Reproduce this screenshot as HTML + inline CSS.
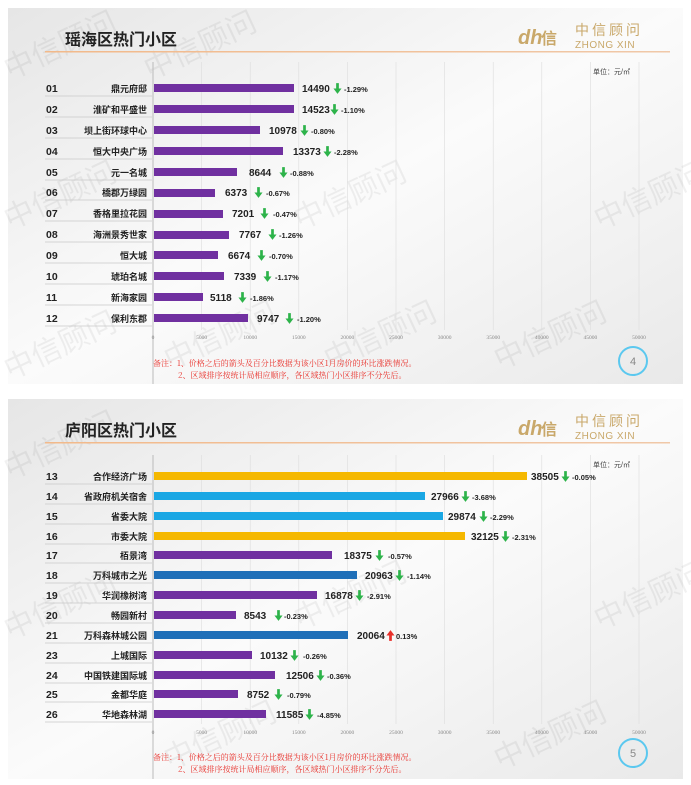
<!DOCTYPE html>
<html><head><meta charset="utf-8"><style>
body{margin:0;background:#fff;width:691px;height:785px;overflow:hidden}
svg{display:block}
text{font-family:"Liberation Sans","Noto Sans CJK SC",sans-serif}
.n{font-size:10.5px;font-weight:bold;fill:#222}
.nm{font-size:9px;font-weight:bold;fill:#222;text-anchor:end}
.v{font-size:10px;font-weight:bold;fill:#222}
.p{font-size:7.5px;font-weight:bold;fill:#222}
.t{font-size:5.5px;fill:#888;text-anchor:middle;font-family:"Liberation Serif",serif}
.w{font-size:30px;fill:#000;opacity:0.05;font-family:"Noto Sans CJK SC",sans-serif}
.r{font-size:8px;fill:#e8302a;font-family:"Noto Serif CJK SC",serif}
.ar{fill:#2db34a}
</style></head><body>
<svg width="691" height="785" viewBox="0 0 691 785">
<defs>
<linearGradient id="bg" x1="0" y1="0" x2="1" y2="1"><stop offset="0" stop-color="#e6e6e6"/><stop offset="0.5" stop-color="#fbfbfb"/><stop offset="1" stop-color="#e9e9e9"/></linearGradient>
<linearGradient id="ol" x1="0" x2="1"><stop offset="0" stop-color="#f2b98a"/><stop offset="1" stop-color="#f0c8a8"/></linearGradient>
<symbol id="dn" viewBox="0 0 10 12"><path class="ar" d="M3.5 0h3v6h3L5 12 0.5 6h3z"/></symbol>
<symbol id="up" viewBox="0 0 10 12"><path fill="#e8302a" d="M3.5 12h3V6h3L5 0 0.5 6h3z"/></symbol>
</defs>
<rect width="691" height="785" fill="#fff"/>
<rect x="8" y="8" width="675" height="376" fill="url(#bg)"/>
<rect x="8" y="399" width="675" height="380" fill="url(#bg)"/>
<g>
<text class="w" x="10" y="80" transform="rotate(-25 10 80)">中信顾问</text>
<text class="w" x="150" y="80" transform="rotate(-25 150 80)">中信顾问</text>
<text class="w" x="300" y="230" transform="rotate(-25 300 230)">中信顾问</text>
<text class="w" x="10" y="230" transform="rotate(-25 10 230)">中信顾问</text>
<text class="w" x="600" y="230" transform="rotate(-25 600 230)">中信顾问</text>
<text class="w" x="10" y="380" transform="rotate(-25 10 380)">中信顾问</text>
<text class="w" x="170" y="370" transform="rotate(-25 170 370)">中信顾问</text>
<text class="w" x="330" y="370" transform="rotate(-25 330 370)">中信顾问</text>
<text class="w" x="500" y="370" transform="rotate(-25 500 370)">中信顾问</text>
<text class="w" x="10" y="480" transform="rotate(-25 10 480)">中信顾问</text>
<text class="w" x="300" y="630" transform="rotate(-25 300 630)">中信顾问</text>
<text class="w" x="600" y="630" transform="rotate(-25 600 630)">中信顾问</text>
<text class="w" x="10" y="640" transform="rotate(-25 10 640)">中信顾问</text>
<text class="w" x="170" y="770" transform="rotate(-25 170 770)">中信顾问</text>
<text class="w" x="500" y="770" transform="rotate(-25 500 770)">中信顾问</text>
</g>

<text x="65" y="45" font-size="16" font-weight="bold" fill="#222">瑶海区热门小区</text>
<rect x="45" y="51" width="625" height="1.5" fill="url(#ol)"/>
<text x="518" y="44" font-size="20" font-style="italic" font-weight="bold" fill="#c9a86a" font-family="Liberation Serif,serif">dh</text>
<text x="541" y="44" font-size="16" font-weight="bold" fill="#c9a86a" font-family="Noto Sans CJK SC,sans-serif">信</text>
<text x="575" y="35" font-size="14" fill="#c9a86a" letter-spacing="3" font-family="Noto Sans CJK SC,sans-serif">中信顾问</text>
<text x="575" y="48" font-size="10" fill="#c9a86a" letter-spacing="0.5">ZHONG XIN</text>
<text x="593" y="74" font-size="7" fill="#444" font-family="Noto Serif CJK SC,serif">单位：元/㎡</text>

<g stroke="#dcdcdc" stroke-width="0.6">
<line x1="153" y1="62" x2="153" y2="384" stroke="#bbb" stroke-width="1"/>
<line x1="201.6" y1="62" x2="201.6" y2="330"/><line x1="250.2" y1="62" x2="250.2" y2="330"/><line x1="298.8" y1="62" x2="298.8" y2="330"/><line x1="347.4" y1="62" x2="347.4" y2="330"/><line x1="396" y1="62" x2="396" y2="330"/><line x1="444.6" y1="62" x2="444.6" y2="330"/><line x1="493.2" y1="62" x2="493.2" y2="330"/><line x1="541.8" y1="62" x2="541.8" y2="330"/><line x1="590.4" y1="62" x2="590.4" y2="330"/><line x1="639" y1="62" x2="639" y2="330"/>
</g>
<g>
<text class="t" x="153" y="339">0</text><text class="t" x="201.6" y="339">5000</text><text class="t" x="250.2" y="339">10000</text><text class="t" x="298.8" y="339">15000</text><text class="t" x="347.4" y="339">20000</text><text class="t" x="396" y="339">25000</text><text class="t" x="444.6" y="339">30000</text><text class="t" x="493.2" y="339">35000</text><text class="t" x="541.8" y="339">40000</text><text class="t" x="590.4" y="339">45000</text><text class="t" x="639" y="339">50000</text>
</g>

<g fill="#7030a0">
<rect x="154" y="84" width="140" height="8"/><rect x="154" y="105" width="140" height="8"/><rect x="154" y="126" width="106" height="8"/><rect x="154" y="147" width="129" height="8"/><rect x="154" y="168" width="83" height="8"/><rect x="154" y="189" width="61" height="8"/><rect x="154" y="210" width="69" height="8"/><rect x="154" y="231" width="75" height="8"/><rect x="154" y="251" width="64" height="8"/><rect x="154" y="272" width="70" height="8"/><rect x="154" y="293" width="49" height="8"/><rect x="154" y="314" width="94" height="8"/>
</g>
<g stroke="#c8c8c8" stroke-width="0.8">
<line x1="45" y1="96" x2="152" y2="96"/><line x1="45" y1="117" x2="152" y2="117"/><line x1="45" y1="138" x2="152" y2="138"/><line x1="45" y1="159" x2="152" y2="159"/><line x1="45" y1="180" x2="152" y2="180"/><line x1="45" y1="200" x2="152" y2="200"/><line x1="45" y1="221" x2="152" y2="221"/><line x1="45" y1="242" x2="152" y2="242"/><line x1="45" y1="263" x2="152" y2="263"/><line x1="45" y1="284" x2="152" y2="284"/><line x1="45" y1="305" x2="152" y2="305"/><line x1="45" y1="326" x2="152" y2="326"/>
</g>
<g>
<text class="n" x="46" y="92">01</text><text class="nm" x="147" y="92">鼎元府邸</text>
<text class="n" x="46" y="113">02</text><text class="nm" x="147" y="113">淮矿和平盛世</text>
<text class="n" x="46" y="134">03</text><text class="nm" x="147" y="134">坝上街环球中心</text>
<text class="n" x="46" y="155">04</text><text class="nm" x="147" y="155">恒大中央广场</text>
<text class="n" x="46" y="176">05</text><text class="nm" x="147" y="176">元一名城</text>
<text class="n" x="46" y="196">06</text><text class="nm" x="147" y="196">橋郡万绿园</text>
<text class="n" x="46" y="217">07</text><text class="nm" x="147" y="217">香格里拉花园</text>
<text class="n" x="46" y="238">08</text><text class="nm" x="147" y="238">海洲景秀世家</text>
<text class="n" x="46" y="259">09</text><text class="nm" x="147" y="259">恒大城</text>
<text class="n" x="46" y="280">10</text><text class="nm" x="147" y="280">琥珀名城</text>
<text class="n" x="46" y="301">11</text><text class="nm" x="147" y="301">新海家园</text>
<text class="n" x="46" y="322">12</text><text class="nm" x="147" y="322">保利东郡</text>
</g>
<g>
<text class="v" x="302" y="92">14490</text><use href="#dn" x="333" y="83" width="9" height="11"/><text class="p" x="344" y="92">-1.29%</text>
<text class="v" x="302" y="113">14523</text><use href="#dn" x="330" y="104" width="9" height="11"/><text class="p" x="341" y="113">-1.10%</text>
<text class="v" x="269" y="134">10978</text><use href="#dn" x="300" y="125" width="9" height="11"/><text class="p" x="311" y="134">-0.80%</text>
<text class="v" x="293" y="155">13373</text><use href="#dn" x="323" y="146" width="9" height="11"/><text class="p" x="334" y="155">-2.28%</text>
<text class="v" x="249" y="176">8644</text><use href="#dn" x="279" y="167" width="9" height="11"/><text class="p" x="290" y="176">-0.88%</text>
<text class="v" x="225" y="196">6373</text><use href="#dn" x="254" y="187" width="9" height="11"/><text class="p" x="266" y="196">-0.67%</text>
<text class="v" x="232" y="217">7201</text><use href="#dn" x="260" y="208" width="9" height="11"/><text class="p" x="273" y="217">-0.47%</text>
<text class="v" x="239" y="238">7767</text><use href="#dn" x="268" y="229" width="9" height="11"/><text class="p" x="279" y="238">-1.26%</text>
<text class="v" x="228" y="259">6674</text><use href="#dn" x="257" y="250" width="9" height="11"/><text class="p" x="269" y="259">-0.70%</text>
<text class="v" x="234" y="280">7339</text><use href="#dn" x="263" y="271" width="9" height="11"/><text class="p" x="275" y="280">-1.17%</text>
<text class="v" x="210" y="301">5118</text><use href="#dn" x="238" y="292" width="9" height="11"/><text class="p" x="250" y="301">-1.86%</text>
<text class="v" x="257" y="322">9747</text><use href="#dn" x="285" y="313" width="9" height="11"/><text class="p" x="297" y="322">-1.20%</text>
</g>
<text class="r" x="153" y="366">备注：1、价格之后的箭头及百分比数据为该小区1月房价的环比涨跌情况。</text>
<text class="r" x="178" y="378">2、区域排序按统计局相应顺序，各区域热门小区排序不分先后。</text>
<circle cx="633" cy="361" r="14" fill="none" stroke="#5bc8ef" stroke-width="2"/>
<text x="633" y="365" font-size="11" fill="#888" text-anchor="middle">4</text>

<text x="65" y="436" font-size="16" font-weight="bold" fill="#222">庐阳区热门小区</text>
<rect x="45" y="442" width="625" height="1.5" fill="url(#ol)"/>
<text x="518" y="435" font-size="20" font-style="italic" font-weight="bold" fill="#c9a86a" font-family="Liberation Serif,serif">dh</text>
<text x="541" y="435" font-size="16" font-weight="bold" fill="#c9a86a" font-family="Noto Sans CJK SC,sans-serif">信</text>
<text x="575" y="426" font-size="14" fill="#c9a86a" letter-spacing="3" font-family="Noto Sans CJK SC,sans-serif">中信顾问</text>
<text x="575" y="439" font-size="10" fill="#c9a86a" letter-spacing="0.5">ZHONG XIN</text>
<text x="593" y="467" font-size="7" fill="#444" font-family="Noto Serif CJK SC,serif">单位：元/㎡</text>

<g stroke="#dcdcdc" stroke-width="0.6">
<line x1="153" y1="455" x2="153" y2="779" stroke="#bbb" stroke-width="1"/>
<line x1="201.6" y1="455" x2="201.6" y2="724"/><line x1="250.2" y1="455" x2="250.2" y2="724"/><line x1="298.8" y1="455" x2="298.8" y2="724"/><line x1="347.4" y1="455" x2="347.4" y2="724"/><line x1="396" y1="455" x2="396" y2="724"/><line x1="444.6" y1="455" x2="444.6" y2="724"/><line x1="493.2" y1="455" x2="493.2" y2="724"/><line x1="541.8" y1="455" x2="541.8" y2="724"/><line x1="590.4" y1="455" x2="590.4" y2="724"/><line x1="639" y1="455" x2="639" y2="724"/>
</g>
<g>
<text class="t" x="153" y="734">0</text><text class="t" x="201.6" y="734">5000</text><text class="t" x="250.2" y="734">10000</text><text class="t" x="298.8" y="734">15000</text><text class="t" x="347.4" y="734">20000</text><text class="t" x="396" y="734">25000</text><text class="t" x="444.6" y="734">30000</text><text class="t" x="493.2" y="734">35000</text><text class="t" x="541.8" y="734">40000</text><text class="t" x="590.4" y="734">45000</text><text class="t" x="639" y="734">50000</text>
</g>
<g>
<rect x="154" y="472" width="373" height="8" fill="#f5b800"/>
<rect x="154" y="492" width="271" height="8" fill="#1aa7e4"/>
<rect x="154" y="512" width="289" height="8" fill="#1aa7e4"/>
<rect x="154" y="532" width="311" height="8" fill="#f5b800"/>
<rect x="154" y="551" width="178" height="8" fill="#7030a0"/>
<rect x="154" y="571" width="203" height="8" fill="#1f6fb8"/>
<rect x="154" y="591" width="163" height="8" fill="#7030a0"/>
<rect x="154" y="611" width="82" height="8" fill="#7030a0"/>
<rect x="154" y="631" width="194" height="8" fill="#1f6fb8"/>
<rect x="154" y="651" width="98" height="8" fill="#7030a0"/>
<rect x="154" y="671" width="121" height="8" fill="#7030a0"/>
<rect x="154" y="690" width="84" height="8" fill="#7030a0"/>
<rect x="154" y="710" width="112" height="8" fill="#7030a0"/>
</g>
<g stroke="#c8c8c8" stroke-width="0.8">
<line x1="45" y1="484" x2="152" y2="484"/><line x1="45" y1="504" x2="152" y2="504"/><line x1="45" y1="524" x2="152" y2="524"/><line x1="45" y1="544" x2="152" y2="544"/><line x1="45" y1="563" x2="152" y2="563"/><line x1="45" y1="583" x2="152" y2="583"/><line x1="45" y1="603" x2="152" y2="603"/><line x1="45" y1="623" x2="152" y2="623"/><line x1="45" y1="643" x2="152" y2="643"/><line x1="45" y1="663" x2="152" y2="663"/><line x1="45" y1="683" x2="152" y2="683"/><line x1="45" y1="702" x2="152" y2="702"/><line x1="45" y1="722" x2="152" y2="722"/>
</g>
<g>
<text class="n" x="46" y="480">13</text><text class="nm" x="147" y="480">合作经济广场</text>
<text class="n" x="46" y="500">14</text><text class="nm" x="147" y="500">省政府机关宿舍</text>
<text class="n" x="46" y="520">15</text><text class="nm" x="147" y="520">省委大院</text>
<text class="n" x="46" y="540">16</text><text class="nm" x="147" y="540">市委大院</text>
<text class="n" x="46" y="559">17</text><text class="nm" x="147" y="559">栢景湾</text>
<text class="n" x="46" y="579">18</text><text class="nm" x="147" y="579">万科城市之光</text>
<text class="n" x="46" y="599">19</text><text class="nm" x="147" y="599">华润橡树湾</text>
<text class="n" x="46" y="619">20</text><text class="nm" x="147" y="619">畅园新村</text>
<text class="n" x="46" y="639">21</text><text class="nm" x="147" y="639">万科森林城公园</text>
<text class="n" x="46" y="659">23</text><text class="nm" x="147" y="659">上城国际</text>
<text class="n" x="46" y="679">24</text><text class="nm" x="147" y="679">中国铁建国际城</text>
<text class="n" x="46" y="698">25</text><text class="nm" x="147" y="698">金都华庭</text>
<text class="n" x="46" y="718">26</text><text class="nm" x="147" y="718">华地森林湖</text>
</g>
<g>
<text class="v" x="531" y="480">38505</text><use href="#dn" x="561" y="471" width="9" height="11"/><text class="p" x="572" y="480">-0.05%</text>
<text class="v" x="431" y="500">27966</text><use href="#dn" x="461" y="491" width="9" height="11"/><text class="p" x="472" y="500">-3.68%</text>
<text class="v" x="448" y="520">29874</text><use href="#dn" x="479" y="511" width="9" height="11"/><text class="p" x="490" y="520">-2.29%</text>
<text class="v" x="471" y="540">32125</text><use href="#dn" x="501" y="531" width="9" height="11"/><text class="p" x="512" y="540">-2.31%</text>
<text class="v" x="344" y="559">18375</text><use href="#dn" x="375" y="550" width="9" height="11"/><text class="p" x="388" y="559">-0.57%</text>
<text class="v" x="365" y="579">20963</text><use href="#dn" x="395" y="570" width="9" height="11"/><text class="p" x="407" y="579">-1.14%</text>
<text class="v" x="325" y="599">16878</text><use href="#dn" x="355" y="590" width="9" height="11"/><text class="p" x="367" y="599">-2.91%</text>
<text class="v" x="244" y="619">8543</text><use href="#dn" x="274" y="610" width="9" height="11"/><text class="p" x="284" y="619">-0.23%</text>
<text class="v" x="357" y="639">20064</text><use href="#up" x="386" y="630" width="9" height="11"/><text class="p" x="396" y="639">0.13%</text>
<text class="v" x="260" y="659">10132</text><use href="#dn" x="290" y="650" width="9" height="11"/><text class="p" x="303" y="659">-0.26%</text>
<text class="v" x="286" y="679">12506</text><use href="#dn" x="316" y="670" width="9" height="11"/><text class="p" x="327" y="679">-0.36%</text>
<text class="v" x="247" y="698">8752</text><use href="#dn" x="274" y="689" width="9" height="11"/><text class="p" x="287" y="698">-0.79%</text>
<text class="v" x="276" y="718">11585</text><use href="#dn" x="305" y="709" width="9" height="11"/><text class="p" x="317" y="718">-4.85%</text>
</g>
<text class="r" x="153" y="760">备注：1、价格之后的箭头及百分比数据为该小区1月房价的环比涨跌情况。</text>
<text class="r" x="178" y="772">2、区域排序按统计局相应顺序，各区域热门小区排序不分先后。</text>
<circle cx="633" cy="753" r="14" fill="none" stroke="#5bc8ef" stroke-width="2"/>
<text x="633" y="757" font-size="11" fill="#888" text-anchor="middle">5</text>
</svg>
</body></html>
